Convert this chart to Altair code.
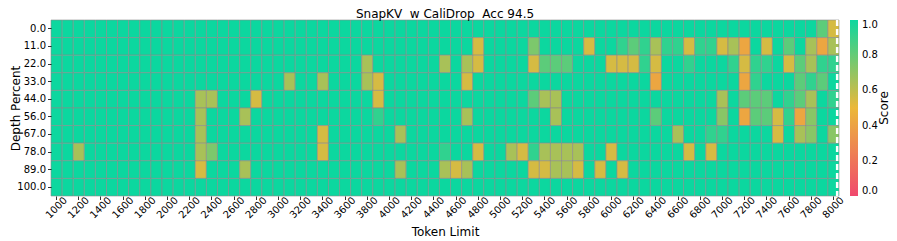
import altair as alt
import pandas as pd

# ---- data ----
TOKEN_LIMITS = list(range(1000, 8001, 100))          # 71 columns
TICK_VALUES = list(range(1000, 8001, 200))            # labelled ticks
DEPTHS = ["0.0", "11.0", "22.0", "33.0", "44.0", "56.0", "67.0", "78.0", "89.0", "100.0"]

# scores per depth row; every cell not listed reads 1.0 (full green)
row_0 = {7900: 0.82, 8000: 0.55}
row_11 = {4800: 0.55, 5300: 0.75, 5800: 0.55, 6100: 0.92, 6200: 0.82, 6300: 0.92,
          6400: 0.65, 6500: 0.92, 6600: 0.92, 6700: 0.55, 6800: 0.92, 6900: 0.92,
          7000: 0.55, 7100: 0.65, 7200: 0.42, 7400: 0.55, 7600: 0.82, 7800: 0.65,
          7900: 0.42, 8000: 0.65}
row_22 = {3800: 0.65, 4500: 0.65, 4700: 0.65, 4800: 0.55, 5300: 0.55, 5400: 0.82,
          5500: 0.82, 5600: 0.82, 6000: 0.55, 6100: 0.55, 6200: 0.55, 6300: 0.92,
          6400: 0.55, 6700: 0.92, 7100: 0.92, 7200: 0.55, 7300: 0.92, 7400: 0.92,
          7600: 0.55, 7700: 0.82, 7800: 0.65, 7900: 0.92, 8000: 0.92}
row_33 = {3100: 0.65, 3400: 0.65, 3800: 0.65, 3900: 0.55, 4700: 0.55, 6400: 0.42,
          7200: 0.42, 7300: 0.92, 7700: 0.82, 7800: 0.92, 7900: 0.82}
row_44 = {2300: 0.65, 2400: 0.65, 2800: 0.55, 3900: 0.55, 5300: 0.82, 5400: 0.65,
          5500: 0.65, 7000: 0.65, 7200: 0.82, 7300: 0.82, 7400: 0.82, 7600: 0.92,
          7700: 0.82, 7800: 0.65, 8000: 0.92}
row_56 = {2300: 0.65, 2700: 0.65, 3900: 0.92, 4700: 0.65, 5500: 0.65, 6400: 0.82,
          7000: 0.72, 7200: 0.42, 7300: 0.82, 7400: 0.82, 7500: 0.55, 7600: 0.92,
          7700: 0.42, 7800: 0.72}
row_67 = {2300: 0.65, 3400: 0.55, 4100: 0.65, 6600: 0.65, 6900: 0.92, 7000: 0.92,
          7500: 0.55, 7700: 0.65, 7800: 0.72, 8000: 0.72}
row_78 = {1200: 0.65, 2300: 0.65, 2400: 0.75, 3400: 0.55, 4500: 0.92, 4800: 0.55,
          5100: 0.65, 5200: 0.55, 5300: 0.92, 5400: 0.65, 5500: 0.65, 5600: 0.65,
          5700: 0.65, 6000: 0.55, 6700: 0.55, 6900: 0.55}
row_89 = {2300: 0.55, 2700: 0.65, 4100: 0.65, 4500: 0.65, 4600: 0.55, 4700: 0.65,
          5300: 0.55, 5400: 0.55, 5500: 0.65, 5600: 0.65, 5700: 0.55, 5900: 0.55,
          6100: 0.55}
row_100 = {}

ROWS = [row_0, row_11, row_22, row_33, row_44, row_56, row_67, row_78, row_89, row_100]

TITLE = "SnapKV \u00a0w CaliDrop \u00a0Acc 94.5"
CONTEXT_MARK = 8000      # dashed white marker sits in the last column
CMAP = ["#F0496E", "#EBB839", "#0CD79F"]

records = []
for depth, row in zip(DEPTHS, ROWS):
    for t in TOKEN_LIMITS:
        records.append({"depth": depth, "token": t, "score": row.get(t, 1.0)})
df = pd.DataFrame(records)

W, H = 788, 176
FONT = "DejaVu Sans"

x_scale = alt.Scale(domain=TOKEN_LIMITS, paddingInner=0, paddingOuter=0)

rects = alt.Chart(df).mark_rect(stroke="#8c8c8c", strokeWidth=0.6).encode(
    x=alt.X("token:O", scale=x_scale,
            axis=alt.Axis(values=TICK_VALUES, title="Token Limit", bandPosition=0.5,
                          grid=False, domain=False, tickSize=3.5, tickWidth=0.8,
                          tickColor="black", labelAngle=-45, labelAlign="center",
                          labelBaseline="middle", labelPadding=8, labelFontSize=10,
                          labelFont=FONT, labelColor="black", labelOverlap=False,
                          labelFlush=False,
                          titleFont=FONT, titleFontSize=12, titleFontWeight="normal",
                          titleColor="black", titleY=39, titleBaseline="alphabetic")),
    y=alt.Y("depth:N", sort=DEPTHS,
            scale=alt.Scale(paddingInner=0, paddingOuter=0),
            axis=alt.Axis(title="Depth Percent", domain=False, tickSize=3.5,
                          tickWidth=0.8, tickColor="black", labelPadding=2,
                          labelFontSize=10, labelFont=FONT, labelColor="black",
                          titleFont=FONT, titleFontSize=12, titleFontWeight="normal",
                          titleColor="black", titleX=-32, titleBaseline="alphabetic")),
    color=alt.Color("score:Q",
                    scale=alt.Scale(domain=[0, 1], range=CMAP, interpolate="rgb"),
                    legend=alt.Legend(title=None, orient="none", legendX=799, legendY=0,
                                      direction="vertical", gradientLength=H,
                                      gradientThickness=8, values=[0, 0.2, 0.4, 0.6, 0.8, 1.0],
                                      format=".1f", labelFontSize=10, labelFont=FONT,
                                      labelColor="black", labelOffset=4,
                                      labelBaseline="middle", labelOverlap=False,
                                      gradientStrokeWidth=0)),
)

rule = alt.Chart(pd.DataFrame({"token": [CONTEXT_MARK]})).mark_rule(
    color="white", strokeWidth=2.5, strokeDash=[6, 3], xOffset=3.7
).encode(x=alt.X("token:O", scale=x_scale), y=alt.value(0), y2=alt.value(H))

score_title = alt.Chart(pd.DataFrame({"t": ["Score"]})).mark_text(
    angle=270, fontSize=12, font=FONT, color="black", baseline="middle", align="center"
).encode(text="t:N", x=alt.value(832.5), y=alt.value(H / 2))

chart = alt.layer(rects, rule, score_title).properties(
    width=W, height=H,
    title=alt.TitleParams(TITLE, fontSize=12, font=FONT, fontWeight="normal",
                          color="black", offset=0, dy=2),
    autosize=alt.AutoSizeParams(type="none"),
    padding={"left": 43, "top": 12, "right": 50, "bottom": 45},
).configure_view(stroke=None).configure_axisX(labelOverlap=False)

chart.save("out.html", embed_options={"renderer": "svg", "actions": False})
